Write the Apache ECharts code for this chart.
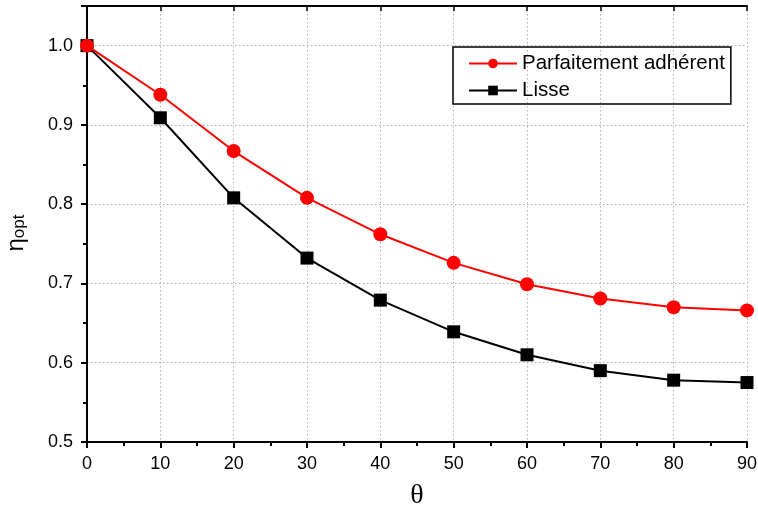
<!DOCTYPE html>
<html><head><meta charset="utf-8">
<script src="https://cdn.jsdelivr.net/npm/echarts@6/dist/echarts.min.js"></script>
<style>html,body{margin:0;padding:0;background:#fff}#c{width:758px;height:506px}</style>
</head><body><div id="c"></div>
<script>
const thetas = [0, 10, 20, 30, 40, 50, 60, 70, 80, 90];
const adherent = [1.0, 0.938, 0.867, 0.808, 0.762, 0.726, 0.699, 0.681, 0.670, 0.666];
const lisse = [1.0, 0.909, 0.808, 0.732, 0.679, 0.639, 0.610, 0.590, 0.578, 0.575];
const seriesNames = ['Parfaitement adhérent', 'Lisse'];

const font = 'Liberation Sans';
const chart = echarts.init(document.getElementById('c'), null, {renderer: 'canvas'});
const axisLine = {show: true, lineStyle: {color: '#000', width: 2}};
const split = {show: true, lineStyle: {color: '#b0b0b0', type: [1.5, 2.5], width: 1}};
chart.setOption({
  animation: false,
  backgroundColor: '#fff',
  grid: {left: 87, right: 11, top: 6, bottom: 64, containLabel: false, outerBoundsMode: 'none'},
  legend: {
    orient: 'vertical', left: 453, top: 47,
    padding: [6, 6, 3, 15], itemGap: 6,
    borderColor: '#000', borderWidth: 1.5,
    itemWidth: 48, itemHeight: 12,
    textStyle: {fontFamily: font, fontSize: 20.5, color: '#000'},
    data: seriesNames
  },
  xAxis: [{
    type: 'value', min: 0, max: 90, interval: 10,
    name: 'θ', nameLocation: 'middle', nameGap: 40,
    nameTextStyle: {fontFamily: 'Liberation Serif', fontSize: 28, color: '#000'},
    axisLine: axisLine,
    axisTick: {show: true, inside: false, length: 6, lineStyle: {color: '#000', width: 2}},
    minorTick: {show: true, splitNumber: 2, length: 4, lineStyle: {color: '#000', width: 2}},
    axisLabel: {fontFamily: font, fontSize: 18, color: '#000', margin: 13},
    splitLine: split
  }, {
    type: 'value', min: 0, max: 90, interval: 10, position: 'top',
    axisLine: axisLine,
    axisTick: {show: true, inside: true, length: 5, lineStyle: {color: '#000', width: 1.5}},
    minorTick: {show: false},
    axisLabel: {show: false}, splitLine: {show: false}
  }],
  yAxis: [{
    type: 'value', min: 0.5, max: 1.05, interval: 0.1,
    name: '{a|η}{b|opt}', nameLocation: 'middle', nameGap: 59,
    nameTextStyle: {padding: [0, 18, 0, 0], rich: {
      a: {fontFamily: font, fontSize: 24, color: '#000'},
      b: {fontFamily: font, fontSize: 17, color: '#000', verticalAlign: 'bottom'}
    }},
    axisLine: axisLine,
    axisTick: {show: true, inside: false, length: 6, lineStyle: {color: '#000', width: 2}},
    minorTick: {show: true, splitNumber: 2, length: 4, lineStyle: {color: '#000', width: 2}},
    axisLabel: {fontFamily: font, fontSize: 18, color: '#000', margin: 14, showMaxLabel: false,
      formatter: v => v > 1.01 ? '' : v.toFixed(1)},
    splitLine: split
  }, {
    type: 'value', min: 0.5, max: 1.05, interval: 0.1, position: 'right',
    axisLine: axisLine,
    axisTick: {show: true, inside: true, length: 5, lineStyle: {color: '#000', width: 1.5}},
    minorTick: {show: false},
    axisLabel: {show: false}, splitLine: {show: false}
  }],
  series: [{
    name: seriesNames[0], type: 'line',
    data: thetas.map((t, i) => [t, adherent[i]]),
    symbol: 'circle', symbolSize: 14,
    lineStyle: {color: '#ff0000', width: 2}, itemStyle: {color: '#ff0000'},
    z: 3
  }, {
    name: seriesNames[1], type: 'line',
    data: thetas.map((t, i) => [t, lisse[i]]),
    symbol: 'rect', symbolSize: 13,
    lineStyle: {color: '#000', width: 2}, itemStyle: {color: '#000'},
    z: 2
  }]
});
</script></body></html>
